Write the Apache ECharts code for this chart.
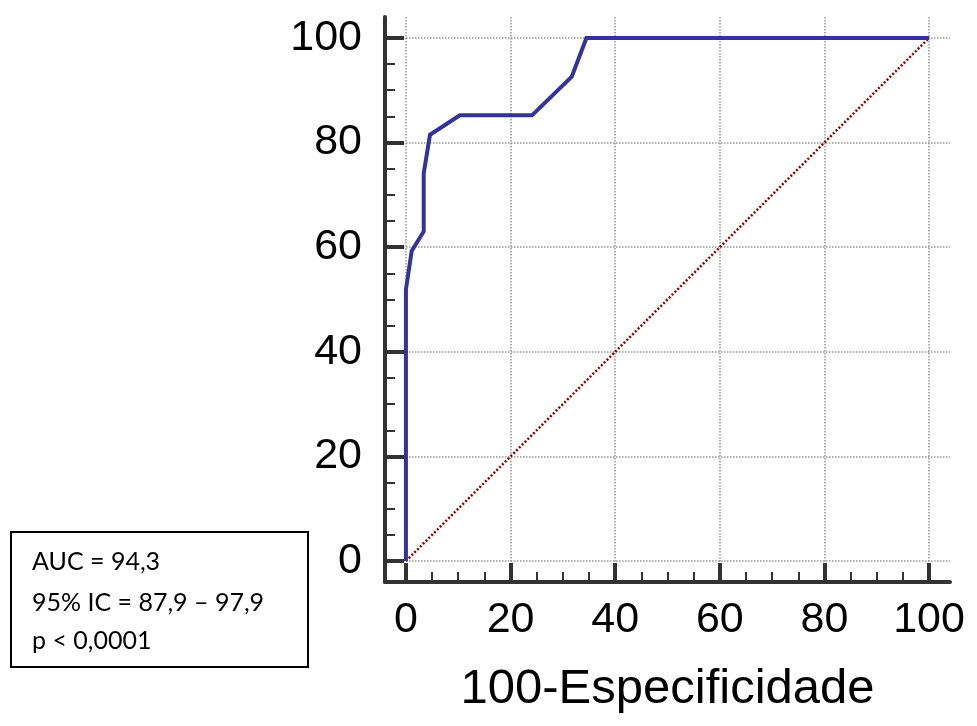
<!DOCTYPE html>
<html>
<head>
<meta charset="utf-8">
<script src="https://cdn.jsdelivr.net/npm/echarts@6/dist/echarts.min.js"></script>
<style>
  html, body { margin: 0; padding: 0; background: #ffffff; }
  #chart { width: 977px; height: 726px; }
</style>
</head>
<body>
<div id="chart"></div>
<script>
// ROC curve points: [100-Especificidade, Sensibilidade]
const rocX = [0, 0, 1.1, 3.4, 3.4, 4.6, 10.3, 24.1, 31.7, 34.5, 100];
const rocY = [0, 51.9, 59.3, 63.0, 74.1, 81.5, 85.2, 85.2, 92.6, 100, 100];
// Reference diagonal
const diagX = [0, 100];
const diagY = [0, 100];
// Axis ticks
const majorTicks = [0, 20, 40, 60, 80, 100];
const minorTicks = [5, 10, 15, 25, 30, 35, 45, 50, 55, 65, 70, 75, 85, 90, 95];
const axisMin = -4;
const axisMax = 104;
const xTitle = '100-Especificidade';
const statLines = ['AUC = 94,3', '95% IC = 87,9 \u2013 97,9', 'p < 0,0001'];

const rocData = rocX.map((x, i) => [x, rocY[i]]);
const diagData = diagX.map((x, i) => [x, diagY[i]]);

const gridBox = { left: 385, right: 27, top: 17, bottom: 144 };
const axisColor = '#333333';
const labelFont = { fontFamily: '"Liberation Sans", Arial, sans-serif', fontSize: 43, color: '#000000' };

function mainAxis(extra) {
  return Object.assign({
    type: 'value',
    gridIndex: 0,
    min: axisMin,
    max: axisMax,
    axisLine: { show: true, onZero: false, lineStyle: { color: axisColor, width: 4 } },
    axisTick: { show: true, inside: true, length: 19, customValues: majorTicks,
                lineStyle: { color: axisColor, width: 4 } },
    axisLabel: Object.assign({ customValues: majorTicks }, labelFont),
    splitLine: { show: true, lineStyle: { color: '#959595', width: 1.5, type: [1.5, 1.5] } },
    minorTick: { show: false },
    minorSplitLine: { show: false }
  }, extra);
}
function minorAxis(extra) {
  return Object.assign({
    type: 'value',
    gridIndex: 1,
    min: axisMin,
    max: axisMax,
    axisLine: { show: false, onZero: false },
    axisTick: { show: true, inside: true, length: 10, customValues: minorTicks,
                lineStyle: { color: axisColor, width: 2 } },
    axisLabel: { show: false },
    splitLine: { show: false }
  }, extra);
}

const chart = echarts.init(document.getElementById('chart'), null, { renderer: 'canvas' });
chart.setOption({
  animation: false,
  backgroundColor: '#ffffff',
  grid: [
    Object.assign({ containLabel: false }, gridBox),
    Object.assign({ containLabel: false }, gridBox)
  ],
  xAxis: [
    mainAxis({
      position: 'bottom',
      axisLabel: Object.assign({ customValues: majorTicks, margin: 17 }, labelFont),
      name: xTitle,
      nameLocation: 'middle',
      nameGap: 83,
      nameTextStyle: { fontFamily: '"Liberation Sans", Arial, sans-serif', fontSize: 49, color: '#000000' }
    }),
    minorAxis({ position: 'bottom' })
  ],
  yAxis: [
    mainAxis({
      position: 'left',
      axisLabel: Object.assign({ customValues: majorTicks, margin: 23 }, labelFont)
    }),
    minorAxis({ position: 'left' })
  ],
  series: [
    {
      type: 'line',
      xAxisIndex: 0,
      yAxisIndex: 0,
      data: diagData,
      showSymbol: false,
      symbol: 'none',
      lineStyle: { color: '#8b0000', width: 2.5, type: [2, 2] },
      z: 2
    },
    {
      type: 'line',
      xAxisIndex: 0,
      yAxisIndex: 0,
      data: rocData,
      showSymbol: false,
      symbol: 'none',
      lineStyle: { color: '#333399', width: 4, join: 'miter' },
      z: 3
    }
  ],
  graphic: [
    {
      type: 'group',
      left: 10,
      top: 531,
      children: [
        { type: 'rect', shape: { x: 0, y: 0, width: 297, height: 135 },
          style: { fill: '#ffffff', stroke: '#000000', lineWidth: 2 } },
        { type: 'text', x: 21, y: 30,
          style: { text: statLines[0], font: '25px Lato, "Noto Sans", sans-serif', fill: '#000000', verticalAlign: 'middle' } },
        { type: 'text', x: 21, y: 71,
          style: { text: statLines[1], font: '25px Lato, "Noto Sans", sans-serif', fill: '#000000', verticalAlign: 'middle' } },
        { type: 'text', x: 21, y: 109,
          style: { text: statLines[2], font: '25px Lato, "Noto Sans", sans-serif', fill: '#000000', verticalAlign: 'middle' } }
      ]
    }
  ]
});
</script>
</body>
</html>
